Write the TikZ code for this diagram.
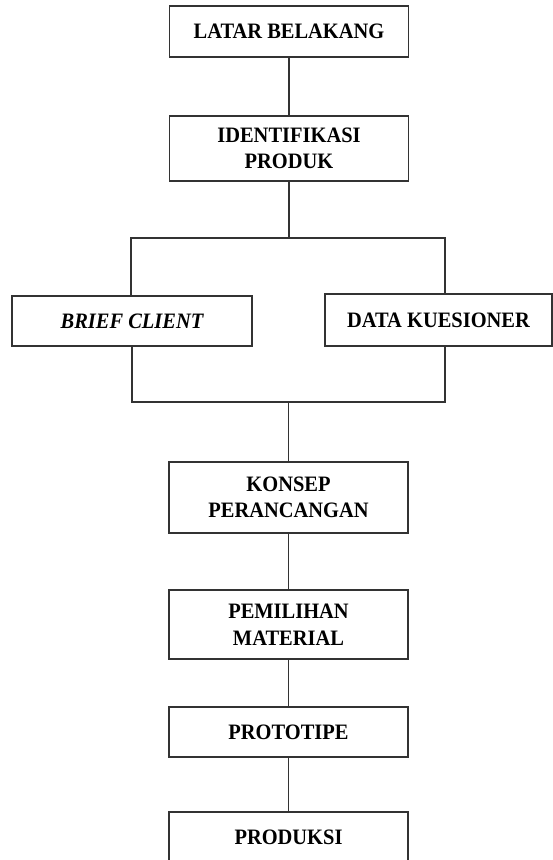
\documentclass[tikz,border=0pt]{standalone}
\usepackage{fontspec}
\setmainfont{Liberation Serif}[FakeStretch=0.93]
\usetikzlibrary{positioning}

\begin{document}
\begin{tikzpicture}[
  x=1pt, y=1pt,
  font=\fontsize{22}{26.5}\selectfont\bfseries,
  box/.style={draw=black!80, line width=1.2pt, align=center, inner sep=0pt, outer sep=0pt,
    minimum width=239pt, minimum height=#1},
  box/.default=51pt,
  link/.style={draw=black!80, line width=1.1pt}
]
\useasboundingbox (0,0) rectangle (553,-860);

\node[box=51pt] (latar) at (289,-31.5) {LATAR BELAKANG};
\node[box=65pt, below=59pt of latar] (ident) {IDENTIFIKASI\\PRODUK};

\node[box=50pt, minimum width=240pt] (brief) at (132,-321) {\itshape BRIEF CLIENT};
\node[box=52pt, minimum width=227pt] (data) at (438.5,-320) {DATA KUESIONER};

\node[box=71pt] (konsep) at (288.5,-497.5) {KONSEP\\PERANCANGAN};
\node[box=69pt, below=57pt of konsep] (pemilihan) {PEMILIHAN\\MATERIAL};
\node[box=50pt, below=48pt of pemilihan] (proto) {PROTOTIPE};
\node[box=50pt, below=55pt of proto] (produksi) {PRODUKSI};

% split and join points
\coordinate (splitL) at (131,-238);
\coordinate (splitR) at (445,-238);
\coordinate (joinL) at (132,-402);
\coordinate (joinR) at (445,-402);

\draw[link] (latar) -- (ident);
\draw[link] (ident.south) -- (ident.south |- splitL);
\draw[link] (brief.north -| splitL) -- (splitL) -- (splitR) -- (splitR |- data.north);
\draw[link] (brief.south -| joinL) -- (joinL) -- (joinR) -- (joinR |- data.south);
\draw[link] (konsep.north |- joinL) -- (konsep.north);
\draw[link] (konsep) -- (pemilihan);
\draw[link] (pemilihan) -- (proto);
\draw[link] (proto) -- (produksi);
\end{tikzpicture}
\end{document}
